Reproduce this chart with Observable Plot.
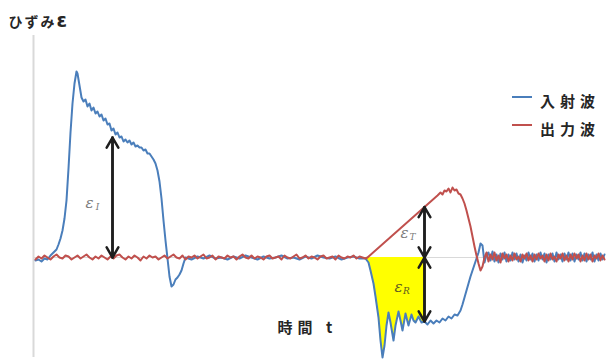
<!DOCTYPE html>
<html><head><meta charset="utf-8">
<script src="https://cdn.jsdelivr.net/npm/d3@7"></script>
<script src="https://cdn.jsdelivr.net/npm/@observablehq/plot@0.6"></script>
<style>
body{margin:0;background:#fff;}
#wrap{position:relative;width:609px;height:364px;}
.leg{position:absolute;left:512px;height:20px;font-family:"Noto Sans CJK JP",sans-serif;font-weight:bold;font-size:15px;letter-spacing:5px;color:#262626;display:flex;align-items:center;white-space:nowrap;}
.leg i{display:inline-block;width:20px;height:2.5px;margin-right:8px;position:relative;top:-3px;}
</style></head><body><div id="wrap"></div>
<script>
// time t (µs, arbitrary origin) and strain ε (×10^-6)
const incidentWave = [
[2,-30],[5,-20],[8,-40],[11,-10],[14,-20],[17,20],[20,50],[23,80],[25,130],[27,190],[29,270],[31,390],[33,570],[35,890],[37,1250],[39,1540],[41,1740],[43,1860],[44,1840],[46,1720],[48,1600],[50,1560],[52,1580],[54,1510],[56,1540],[58,1470],[60,1500],[62,1440],[64,1460],[66,1410],[68,1430],[70,1370],[72,1390],[74,1330],[76,1340],[78,1270],[80,1290],[82,1230],[84,1250],[86,1200],[88,1210],[90,1160],[92,1180],[94,1150],[96,1170],[98,1130],[100,1150],[102,1110],[104,1120],[106,1100],[108,1100],[110,1070],[112,1080],[114,1040],[116,1040],[118,1010],[120,980],[122,940],[124,870],[126,760],[128,590],[130,370],[132,170],[134,-10],[136,-190],[138,-290],[140,-270],[142,-220],[144,-200],[146,-170],[148,-130],[150,-60],[152,0],
[158,-20],[164,10],[170,-10],[176,20],[182,-10],[188,0],[194,-20],[200,10],[206,-10],[212,20],[218,0],[224,-20],[230,10],[236,-10],[242,0],[248,20],[254,-10],[260,0],[266,-20],[272,10],[278,-10],[284,20],[290,0],[296,-10],[302,10],[308,-20],[314,0],[320,10],[326,-10],
[332,-10],[335,-50],[337,-130],[340,-260],[342,-390],[345,-600],[347,-830],[349,-1000],[351,-880],[353,-680],[355,-550],[357,-650],[360,-830],[362,-680],[365,-540],[367,-630],[369,-730],[372,-560],[375,-680],[378,-570],[380,-630],[382,-650],[385,-590],[388,-650],[391,-640],[394,-670],[397,-630],[400,-660],[403,-630],[406,-650],[409,-610],[412,-630],[415,-590],[418,-610],[421,-570],[424,-580],[427,-530],[429,-470],[431,-400],[433,-330],[435,-260],[437,-190],[439,-130],[441,-70],[443,-10],[445,50],[447,140],[449,120],[451,-50],[453,30],
[455,50],[457,-30],[459,60],[461,-40],[463,30],[465,-50],[467,40],[469,-20],[471,50],[473,-40],[475,30],[477,-30],[479,50],[481,-20],[483,40],[485,-40],[487,30],[489,-50],[491,20],[493,-30],[495,50],[497,-20],[499,40],[501,-40],[503,30],[505,-30],[507,50],[509,-20],[511,40],[513,-50],[515,30],[517,-20],[519,40],[521,-40],[523,50],[525,-20],[527,30],[529,-40],[531,40],[533,-20],[535,50],[537,-30],[539,40],[541,-40],[543,30],[545,-20],[547,50],[549,-30],[551,40],[553,-40],[555,30],[557,-20],[559,50],[561,-40],[563,30],[565,-30],[567,40],[569,-20],[571,30]
];
const outputWave = [
[2,-20],[5,10],[8,-10],[11,20],[14,0],[17,-20],[20,10],[23,30],[26,0],[29,-10],[32,20],[35,10],[38,-20],[41,0],[44,20],[47,-10],[50,10],[53,30],[56,0],[59,-20],[62,10],[65,-10],[68,20],[71,0],[74,-20],[77,10],[80,-10],[83,20],[86,30],[89,0],[92,-20],[95,10],[98,-10],[101,20],[104,0],[107,-30],[110,10],[113,-10],[116,20],[119,0],[122,10],[125,-20],[128,0],[131,20],[134,-10],[137,10],[140,30],[143,0],[146,-10],[149,20],[152,-20],[155,10],[158,0],[161,20],[164,-10],[167,10],[170,30],[173,-10],[176,0],[179,20],[182,-20],[185,10],[188,0],[191,-10],[194,20],[197,0],[200,10],[203,-20],[206,10],[209,30],[212,0],[215,-10],[218,20],[221,-10],[224,10],[227,0],[230,-20],[233,10],[236,20],[239,-10],[242,0],[245,10],[248,-20],[251,20],[254,0],[257,-10],[260,10],[263,30],[266,-10],[269,0],[272,20],[275,-10],[278,10],[281,0],[284,-20],[287,10],[290,20],[293,-10],[296,0],[299,10],[302,-20],[305,20],[308,0],[311,-10],[314,10],[317,0],[320,20],[323,-10],[326,10],[329,0],[332,-10],[334,0],
[404,620],[407,650],[409,630],[411,670],[413,660],[415,690],[417,650],[419,700],[421,670],[423,680],[425,640],[427,630],[429,590],[431,540],[433,470],[435,390],[437,310],[439,210],[441,110],[443,20],[445,-60],[447,-130],[449,-90],[451,0],[453,50],
[455,-40],[457,30],[459,-20],[461,50],[463,-30],[465,20],[467,-50],[469,40],[471,-10],[473,30],[475,-40],[477,20],[479,-30],[481,40],[483,-20],[485,10],[487,-40],[489,30],[491,-10],[493,40],[495,-30],[497,20],[499,-40],[501,30],[503,-20],[505,40],[507,-10],[509,20],[511,-40],[513,30],[515,-30],[517,40],[519,-20],[521,10],[523,-40],[525,30],[527,-10],[529,40],[531,-30],[533,20],[535,-40],[537,30],[539,-20],[541,40],[543,-10],[545,30],[547,-40],[549,20],[551,-30],[553,40],[555,-20],[557,30],[559,-40],[561,20],[563,-10],[565,40],[567,-30],[569,20],[571,-20]
];
const seriesNames = ["入射波", "出力波"];
const yLabel = "ひずみε";
const xLabel = "時間 t";
// strain annotations: εI, εT, εR
const arrowNames = ["I", "T", "R"];
const arrowT = [79, 391, 391];
const arrowE = [1200, 505, -640];
const reflectedStart = 332; // start of the shaded εR region

const blue = "#4a7ebb", red = "#c0504d";
const arrows = arrowNames.map((n, i) => ({n, t: arrowT[i], e: arrowE[i]}));
const labelPos = {I: [56, 540], T: [371, 245], R: [365, -300]};
const labels = arrows.map(d => ({n: d.n, t: labelPos[d.n][0], e: labelPos[d.n][1]}));
const shaded = incidentWave.filter(d => d[0] >= reflectedStart && d[0] <= arrowT[2]);

const chart = Plot.plot({
  width: 609, height: 364,
  marginLeft: 33, marginRight: 4, marginTop: 35, marginBottom: 7,
  x: {domain: [0, 572], axis: null},
  y: {domain: [-1000, 2220], axis: null},
  style: {background: "#fff"},
  marks: [
    Plot.ruleY([0], {stroke: "#d9d9d9", strokeWidth: 1}),
    Plot.ruleX([0], {stroke: "#d9d9d9", strokeWidth: 2}),
    Plot.areaY(shaded, {x: d => d[0], y1: 0, y2: d => d[1], fill: "#ffff00"}),
    Plot.line(incidentWave, {x: d => d[0], y: d => d[1], stroke: blue, strokeWidth: 2}),
    Plot.line(outputWave, {x: d => d[0], y: d => d[1], stroke: red, strokeWidth: 2}),
    Plot.arrow(arrows, {x1: "t", y1: 0, x2: "t", y2: "e", stroke: "#1e1e1e", strokeWidth: 2.5, headLength: 7}),
    Plot.arrow(arrows, {x1: "t", y1: "e", x2: "t", y2: 0, stroke: "#1e1e1e", strokeWidth: 2.5, headLength: 7}),
    Plot.text(labels, {x: "t", y: "e", text: () => "ε", fontFamily: "DejaVu Serif", fontStyle: "italic", fontSize: 15, fill: d => d.n === "R" ? "#5c5a20" : "#7a7a7a"}),
    Plot.text(labels, {x: "t", y: "e", text: "n", dx: 8, dy: 4, fontFamily: "DejaVu Serif", fontStyle: "italic", fontSize: 9, fill: d => d.n === "R" ? "#5c5a20" : "#7a7a7a"}),
    Plot.text([yLabel], {frameAnchor: "top-left", dx: -25, dy: -18, textAnchor: "start", fontSize: 14, fontWeight: "bold", fontFamily: "Noto Sans CJK JP", fill: "#262626"}),
    Plot.text([xLabel], {frameAnchor: "bottom-left", dx: 244, dy: -24.5, textAnchor: "start", fontSize: 15, fontWeight: "bold", fontFamily: "Noto Sans CJK JP", fill: "#262626"})
  ]
});
d3.select(chart).selectAll("text").each(function () {
  if (this.textContent === yLabel) {
    this.setAttribute("letter-spacing", "2");
    const t = d3.select(this);
    t.text(null);
    t.append("tspan").text(yLabel.slice(0, -1));
    t.append("tspan").attr("font-size", 19).attr("font-family", "DejaVu Sans").text(yLabel.slice(-1));
  }
  if (this.textContent === xLabel) this.setAttribute("letter-spacing", "5");
});
const wrap = document.getElementById("wrap");
wrap.appendChild(chart);
[[seriesNames[0], blue, 90], [seriesNames[1], red, 118]].forEach(([name, color, top]) => {
  const div = document.createElement("div");
  div.className = "leg";
  div.style.top = top + "px";
  const sw = document.createElement("i");
  sw.style.background = color;
  div.appendChild(sw);
  div.appendChild(document.createTextNode(name));
  wrap.appendChild(div);
});
</script></body></html>
